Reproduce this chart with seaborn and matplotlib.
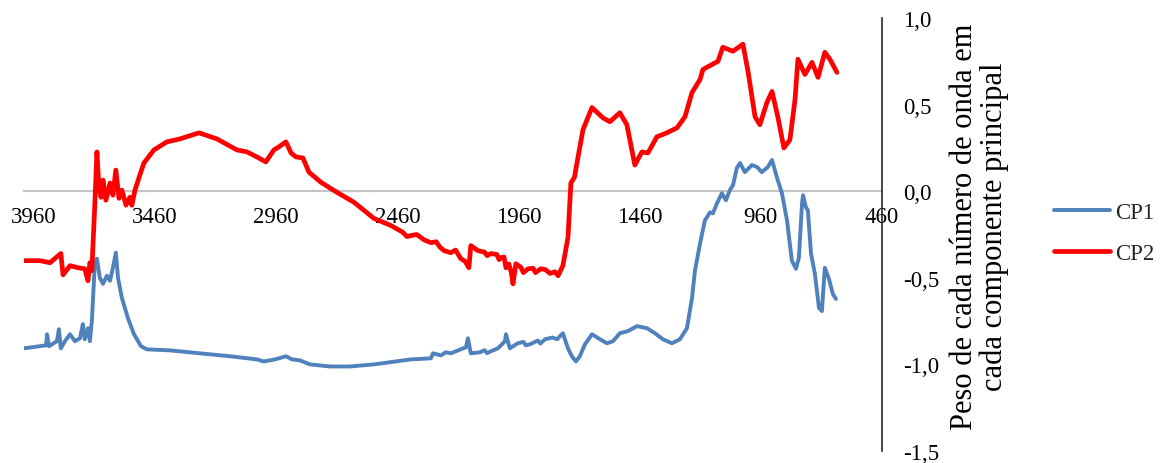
import matplotlib
matplotlib.use("Agg")
import matplotlib.pyplot as plt
import seaborn as sns
import pandas as pd

# Loadings of the first principal component (CP1) by wavenumber (cm-1)
cp1_wavenumber = [4000, 3935, 3910, 3906, 3898, 3865, 3857, 3849, 3832, 3811, 3791, 3770,
                  3758, 3750, 3737, 3729, 3721, 3708, 3700, 3688, 3675, 3659, 3646, 3634,
                  3622, 3613, 3597, 3572, 3547, 3518, 3494, 3399, 3275, 3151, 3040, 3011,
                  2965, 2920, 2895, 2862, 2821, 2738, 2656, 2557, 2404, 2322, 2313, 2280,
                  2260, 2239, 2220, 2198, 2177, 2169, 2157, 2119, 2100, 2090, 2074, 2045,
                  2016, 2012, 1996, 1963, 1940, 1930, 1913, 1880, 1870, 1851, 1820, 1800,
                  1789, 1777, 1756, 1740, 1723, 1707, 1686, 1657, 1624, 1595, 1570,
                  1542, 1509, 1471, 1430, 1397, 1364, 1327, 1294, 1265, 1244, 1232, 1211,
                  1191, 1170, 1158, 1141, 1121, 1104, 1088, 1075, 1059, 1046, 1026, 997,
                  976, 956, 931, 914, 894, 873, 852, 832, 815, 803, 790, 786, 774, 766,
                  753, 737, 720, 708, 696, 679, 663, 650]
cp1_loading = [-0.907, -0.895, -0.890, -0.826, -0.895, -0.866, -0.797, -0.907, -0.866, -0.826,
               -0.866, -0.849, -0.767, -0.855, -0.791, -0.866, -0.750, -0.401, -0.390, -0.500,
               -0.535, -0.488, -0.517, -0.442, -0.355, -0.500, -0.616, -0.733, -0.826, -0.895,
               -0.913, -0.919, -0.936, -0.953, -0.971, -0.983, -0.971, -0.953, -0.971, -0.977,
               -1.000, -1.012, -1.012, -1.000, -0.971, -0.965, -0.936, -0.948,
               -0.930, -0.936, -0.925, -0.913, -0.901, -0.849, -0.936, -0.930, -0.918, -0.935,
               -0.924, -0.907, -0.866, -0.826, -0.907, -0.878, -0.870, -0.890, -0.884, -0.862,
               -0.880, -0.855, -0.845, -0.855,
               -0.837, -0.820, -0.907, -0.953, -0.983, -0.953, -0.884, -0.826, -0.855,
               -0.878, -0.866, -0.820, -0.808, -0.779, -0.791, -0.820, -0.855, -0.878, -0.855,
               -0.791, -0.616, -0.459, -0.302, -0.169, -0.122, -0.128, -0.070, -0.012, -0.052,
               0.006, 0.035, 0.134, 0.163, 0.110, 0.151, 0.140, 0.110, 0.140, 0.180,
               0.081, -0.012, -0.169, -0.401, -0.448, -0.384, -0.070, -0.023, -0.093, -0.110,
               -0.360, -0.477, -0.674, -0.692, -0.442, -0.506, -0.593, -0.622]

# Loadings of the second principal component (CP2) by wavenumber (cm-1)
cp2_wavenumber = [4000, 3935, 3894, 3849, 3840, 3811, 3778, 3750, 3737, 3729, 3721, 3708,
                  3700, 3692, 3683, 3675, 3663, 3646, 3634, 3622, 3609, 3597, 3580, 3564,
                  3556, 3543, 3523, 3506, 3465, 3411, 3357, 3279, 3205, 3122, 3081, 3040,
                  3003, 2970, 2949, 2920, 2899, 2879, 2850, 2825, 2776, 2710, 2639, 2557,
                  2487, 2440, 2420, 2404, 2380, 2350, 2322, 2300, 2285, 2268, 2240, 2220,
                  2198, 2180, 2165, 2157, 2128, 2100, 2090, 2074, 2050, 2040, 2033, 2020,
                  2012, 2000, 1990, 1983, 1971, 1950, 1940, 1921, 1900, 1890, 1868, 1850,
                  1830, 1810, 1797, 1777, 1756, 1744, 1729, 1719, 1694, 1657, 1612,
                  1583, 1542, 1513, 1480, 1451, 1426, 1389, 1348, 1306, 1273, 1244, 1211,
                  1199, 1137, 1117, 1075, 1046, 1034, 1013, 984, 964, 935, 914, 890, 865,
                  840, 819, 807, 778, 749, 724, 696, 675, 646]
cp2_loading = [-0.401, -0.401, -0.413, -0.360, -0.483, -0.430, -0.442, -0.448, -0.517, -0.413,
               -0.459, -0.052, 0.227, 0.023, -0.035, 0.064, -0.052, 0.047, -0.023, 0.122,
               -0.041, 0.006, -0.081, -0.035, -0.081, 0.006, 0.093, 0.163, 0.238, 0.285,
               0.302, 0.337, 0.302, 0.238, 0.227, 0.198, 0.169, 0.238, 0.256, 0.285,
               0.221, 0.198, 0.192, 0.110, 0.052, -0.006, -0.064, -0.157,
               -0.198, -0.235, -0.262, -0.256, -0.250, -0.281, -0.297, -0.292, -0.322, -0.343,
               -0.355, -0.340, -0.390, -0.405, -0.442, -0.314, -0.343, -0.352, -0.372, -0.360,
               -0.365, -0.395, -0.384, -0.380, -0.442, -0.420, -0.470, -0.535, -0.419, -0.440,
               -0.470, -0.448, -0.445, -0.470, -0.448, -0.452, -0.475, -0.465, -0.488, -0.430,
               -0.267, 0.047, 0.081, 0.163, 0.355,
               0.483, 0.424, 0.401, 0.453, 0.384, 0.151, 0.227, 0.221, 0.314, 0.337,
               0.366, 0.430, 0.570, 0.645, 0.703, 0.750, 0.831, 0.808, 0.837, 0.849,
               0.692, 0.430, 0.384, 0.512, 0.576, 0.430, 0.250, 0.297, 0.529, 0.762,
               0.674, 0.744, 0.657, 0.802, 0.762, 0.686]

assert len(cp1_wavenumber) == len(cp1_loading)
assert len(cp2_wavenumber) == len(cp2_loading)

series_names = ["CP1", "CP2"]
series_colors = ["#4F81BD", "#FF0000"]
series_widths = [2.8, 3.4]

xtick_values = [3960, 3460, 2960, 2460, 1960, 1460, 960, 460]
xtick_labels = ["3960", "3460", "2960", "2460", "1960", "1460", "960", "460"]
ytick_values = [-1.5, -1.0, -0.5, 0.0, 0.5, 1.0]
ytick_labels = ["-1,5", "-1,0", "-0,5", "0,0", "0,5", "1,0"]
ylabel_text = "Peso de cada número de onda em\ncada componente principal"

sns.set_theme(style="white")
plt.rcParams["font.family"] = ["Liberation Serif", "DejaVu Serif"]

W, H = 1162, 464
fig = plt.figure(figsize=(W / 100, H / 100), dpi=100)
ax = fig.add_axes([24 / W, 12 / H, 858 / W, 433 / H])

frames = [
    pd.DataFrame({"wavenumber": cp1_wavenumber, "loading": cp1_loading}),
    pd.DataFrame({"wavenumber": cp2_wavenumber, "loading": cp2_loading}),
]
for df, name, color, lw in zip(frames, series_names, series_colors, series_widths):
    sns.lineplot(data=df, x="wavenumber", y="loading", ax=ax, color=color,
                 linewidth=lw, label=name, sort=False, estimator=None,
                 solid_joinstyle="round", solid_capstyle="round")

ax.set_xlim(4001, 460)
ax.set_ylim(-1.5, 1.0)

# horizontal axis crosses at zero, vertical axis sits at the right end
for side in ["top", "left"]:
    ax.spines[side].set_visible(False)
ax.spines["bottom"].set_position(("data", 0))
ax.spines["bottom"].set_color("#C4C4C4")
ax.spines["bottom"].set_linewidth(1.6)
ax.spines["bottom"].set_zorder(0)
ax.spines["right"].set_color("#262626")
ax.spines["right"].set_linewidth(1.2)

ax.set_xticks(xtick_values)
ax.set_xticklabels(xtick_labels)
ax.set_yticks(ytick_values)
ax.set_yticklabels(ytick_labels)
ax.yaxis.tick_right()
ax.tick_params(axis="x", length=0, pad=11, labelsize=16.5, colors="black")
ax.tick_params(axis="y", length=0, pad=15, labelsize=16.5, colors="black")

ax.set_xlabel("")
ax.set_ylabel(ylabel_text, fontsize=22, linespacing=1.05, color="black")
ax.yaxis.set_label_position("right")
ax.yaxis.set_label_coords(1.079, 0.52)

ax.legend(loc="center left", bbox_to_anchor=(1054 / W, 1 - 234 / H),
          bbox_transform=fig.transFigure, frameon=False, fontsize=16.5,
          handlelength=2.45, handletextpad=0.2, labelspacing=0.85,
          borderpad=0, borderaxespad=0)
ax.grid(False)

fig.savefig("out.png", dpi=100, facecolor="white")
